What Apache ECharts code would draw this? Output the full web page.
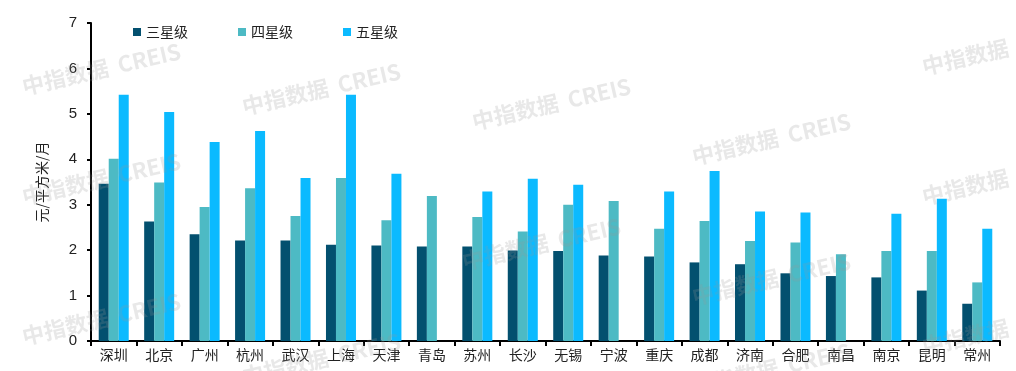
<!DOCTYPE html>
<html lang="zh">
<head>
<meta charset="UTF-8">
<script src="https://cdn.jsdelivr.net/npm/echarts@6/dist/echarts.min.js"></script>
<title>rent</title>
</head>
<body style="margin:0;background:#fff;">
<div id="chart" style="width:1016px;height:371px;"></div>
<script>
var cities = ['深圳', '北京', '广州', '杭州', '武汉', '上海', '天津', '青岛', '苏州', '长沙',
    '无锡', '宁波', '重庆', '成都', '济南', '合肥', '南昌', '南京', '昆明', '常州'];
var star3 = [3.46, 2.63, 2.35, 2.21, 2.21, 2.12, 2.10, 2.08, 2.08, 1.99,
    1.98, 1.88, 1.86, 1.73, 1.69, 1.49, 1.43, 1.40, 1.11, 0.82];
var star4 = [4.01, 3.49, 2.95, 3.36, 2.75, 3.59, 2.66, 3.19, 2.73, 2.41,
    3.00, 3.08, 2.47, 2.64, 2.20, 2.17, 1.91, 1.98, 1.98, 1.29];
var star5 = [5.42, 5.04, 4.38, 4.62, 3.59, 5.42, 3.68, null, 3.29, 3.57,
    3.44, null, 3.29, 3.74, 2.85, 2.83, null, 2.80, 3.13, 2.47];
var seriesNames = ['三星级', '四星级', '五星级'];
var colors = ['#03506f', '#4dbac4', '#0bbaff'];

var font = '"Noto Sans CJK SC", "Noto Sans", sans-serif';

// watermark
var marks = [];
var wm = [[20, 40], [240, 60], [470, 75], [690, 110], [920, 20], [20, 150], [460, 215],
    [690, 250], [920, 150], [20, 290], [240, 330], [690, 340], [920, 300]];
wm.forEach(function (p) {
    marks.push({
        type: 'text', left: p[0], top: p[1], rotation: Math.PI / 14, z: 100,
        style: { text: '中指数据  CREIS', fill: 'rgba(150,150,150,0.22)', font: 'bold 22px ' + font }
    });
});

var chart = echarts.init(document.getElementById('chart'));
chart.setOption({
    animation: false,
    textStyle: { fontFamily: font },
    color: colors,
    graphic: marks,
    legend: {
        top: 20, left: 128, itemGap: 50,
        itemWidth: 8, itemHeight: 8, icon: 'rect',
        textStyle: { fontSize: 14, color: '#222' },
        data: seriesNames
    },
    grid: { left: 91, right: 16, top: 23, bottom: 30 },
    xAxis: {
        type: 'category',
        data: cities,
        axisLine: { lineStyle: { color: '#000', width: 2 } },
        axisTick: { show: true, lineStyle: { color: '#000', width: 2 } },
        axisLabel: { fontSize: 14, color: '#222', margin: 7 }
    },
    yAxis: {
        type: 'value', min: 0, max: 7, interval: 1,
        name: '元/平方米/月', nameLocation: 'middle', nameGap: 42,
        nameTextStyle: { fontSize: 14, color: '#222' },
        axisLine: { show: true, lineStyle: { color: '#000', width: 2 } },
        axisTick: { show: true, length: 4, lineStyle: { color: '#000', width: 2 } },
        axisLabel: { fontSize: 15, color: '#222', margin: 14, fontFamily: '"Liberation Sans", Arial, sans-serif' },
        splitLine: { show: false }
    },
    series: [
        { name: seriesNames[0], type: 'bar', data: star3, barWidth: 10, barGap: '0%', barCategoryGap: '34%' },
        { name: seriesNames[1], type: 'bar', data: star4, barWidth: 10, barGap: '0%' },
        { name: seriesNames[2], type: 'bar', data: star5, barWidth: 10, barGap: '0%' }
    ]
});
</script>
</body>
</html>
